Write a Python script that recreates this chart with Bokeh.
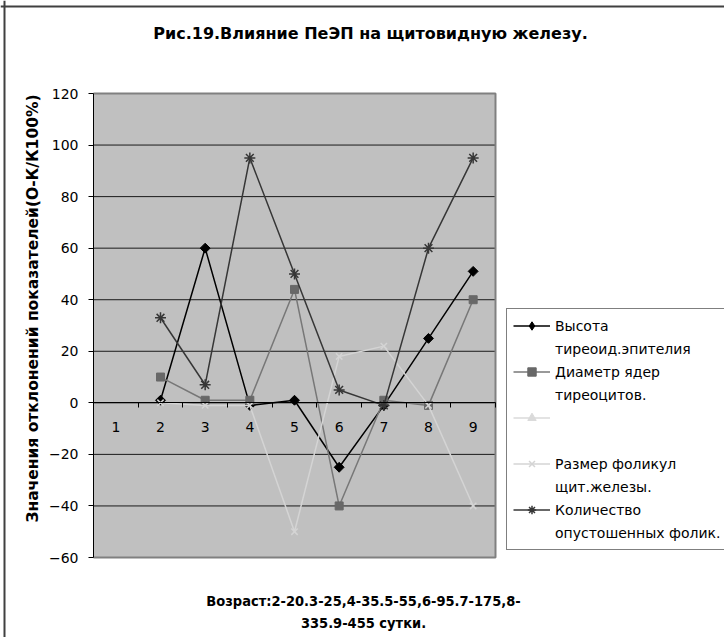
import math
from bokeh.plotting import figure
from bokeh.models import (Range1d, FixedTicker, LinearAxis, Label, Legend,
                          LegendItem, Span)
from bokeh.core.properties import value
from bokeh.embed import file_html
from bokeh.resources import INLINE

NaN = float("nan")

# Age groups 1..9 on the x axis; series have values from group 2 on
categories = ["1", "2", "3", "4", "5", "6", "7", "8", "9"]
age_groups = [2, 3, 4, 5, 6, 7, 8, 9]

epithelium_height = [1, 60, -1, 1, -25, -1, 25, 51]
nucleus_diameter = [10, 1, 1, 44, -40, 1, -1, 40]
unnamed_series = [NaN, NaN, NaN, NaN, NaN, NaN, NaN, NaN]
follicle_size = [0, -1, -1, -50, 18, 22, -1, -40]
empty_follicles = [33, 7, 95, 50, 5, -1, 60, 95]

y_ticks = [-60, -40, -20, 0, 20, 40, 60, 80, 100, 120]
y_tick_labels = ["-60", "-40", "-20", "0", "20", "40", "60", "80", "100", "120"]

title_text = "Рис.19.Влияние ПеЭП на щитовидную железу."
y_title = "Значения отклонений показателей(О-К/К100%)"
x_title_lines = ["Возраст:2-20.3-25,4-35.5-55,6-95.7-175,8-", "335.9-455 сутки."]

FONT = "DejaVu Sans"

# page geometry (pixels): the canvas and the grey plotting area inside it
W, H = 724, 637
AREA_L, AREA_R, AREA_T, AREA_B = 93, 495, 93, 557

x_lo, x_hi = 0.5, len(categories) + 0.5
y_lo, y_hi = y_ticks[0], y_ticks[-1]
x_per_px = (x_hi - x_lo) / (AREA_R - AREA_L)
y_per_px = (y_hi - y_lo) / (AREA_B - AREA_T)

# the frame spans the whole canvas so that legend and captions are not clipped
p = figure(width=W, height=H,
           x_range=Range1d(x_lo - AREA_L * x_per_px, x_hi + (W - AREA_R) * x_per_px),
           y_range=Range1d(y_lo - (H - AREA_B) * y_per_px, y_hi + AREA_T * y_per_px),
           x_axis_type=None, y_axis_type=None,
           output_backend="svg", toolbar_location=None,
           min_border=0)
p.outline_line_color = None
p.background_fill_color = "white"
p.border_fill_color = "white"
p.grid.visible = False

# grey plotting area
p.quad(left=x_lo, right=x_hi, bottom=y_lo, top=y_hi,
       fill_color="#c0c0c0", line_color=None)

# horizontal gridlines
inner = y_ticks[1:-1]
p.segment(x0=[x_lo] * len(inner), x1=[x_hi] * len(inner), y0=inner, y1=inner,
          line_color="#1a1a1a", line_width=1)

# grey border of the plotting area (top, right, bottom)
p.line([x_lo, x_hi, x_hi, x_lo], [y_hi, y_hi, y_lo, y_lo],
       line_color="#808080", line_width=2)

# series
r1_line = p.line(age_groups, epithelium_height, line_color="black", line_width=1.5)
p.scatter(age_groups, epithelium_height, marker="square", angle=math.pi / 4,
          size=7, fill_color="black", line_color="black")
# legend key for the diamond markers (no visible point)
r1_key = p.scatter(age_groups[:1], [NaN], marker="diamond", size=11,
                   fill_color="black", line_color="black")

r2_line = p.line(age_groups, nucleus_diameter, line_color="#777777", line_width=1.5)
r2_mark = p.scatter(age_groups, nucleus_diameter, marker="square", size=8,
                    fill_color="#686868", line_color="#686868")

r3_line = p.line(age_groups, unnamed_series, line_color="#dadada", line_width=1.5)
r3_mark = p.scatter(age_groups, unnamed_series, marker="triangle", size=9,
                    fill_color="#dadada", line_color="#dadada")

r4_line = p.line(age_groups, follicle_size, line_color="#d4d4d4", line_width=1.5)
r4_mark = p.scatter(age_groups, follicle_size, marker="x", size=9,
                    line_color="#d4d4d4", line_width=1.5)

r5_line = p.line(age_groups, empty_follicles, line_color="#363636", line_width=1.5)
r5_mark = p.scatter(age_groups, empty_follicles, marker="asterisk", size=11,
                    line_color="#363636", line_width=1.5)

# y axis on the left edge of the plotting area
y_axis = LinearAxis(ticker=FixedTicker(ticks=y_ticks), fixed_location=x_lo,
                    bounds=(y_lo, y_hi),
                    major_label_overrides={str(t): s for t, s in zip(y_ticks, y_tick_labels)},
                    major_tick_in=0, major_tick_out=5, minor_tick_line_color=None,
                    axis_line_color="black", major_tick_line_color="black",
                    major_label_standoff=10, major_label_text_font=FONT,
                    major_label_text_font_size="14px", major_label_text_color="black")
p.add_layout(y_axis, "left")

# x axis crossing at zero: tick marks between groups, labels at group centres
boundaries = [k + 0.5 for k in range(len(categories) + 1)]
tick_axis = LinearAxis(ticker=FixedTicker(ticks=boundaries), fixed_location=0,
                       bounds=(x_lo, x_hi),
                       major_tick_in=0, major_tick_out=5,
                       minor_tick_line_color=None,
                       axis_line_color="black", major_tick_line_color="black",
                       major_label_text_alpha=0, major_label_text_font_size="1px")
label_axis = LinearAxis(ticker=FixedTicker(ticks=list(range(1, len(categories) + 1))),
                        fixed_location=0,
                        major_label_overrides={str(i + 1): c for i, c in enumerate(categories)},
                        major_tick_in=0, major_tick_out=0,
                        major_tick_line_color=None, minor_tick_line_color=None,
                        axis_line_color=None, major_label_standoff=19,
                        major_label_text_font=FONT, major_label_text_font_size="14px",
                        major_label_text_color="black")
p.add_layout(tick_axis, "below")
p.add_layout(label_axis, "below")

# invisible sample for the second line of each legend entry
blank = p.line([], [], line_alpha=0)

legend = Legend(items=[
    LegendItem(label=value("Высота"), renderers=[r1_line, r1_key]),
    LegendItem(label=value("тиреоид.эпителия"), renderers=[blank]),
    LegendItem(label=value("Диаметр ядер"), renderers=[r2_line, r2_mark]),
    LegendItem(label=value("тиреоцитов."), renderers=[blank]),
    LegendItem(label=value(" "), renderers=[r3_line, r3_mark]),
    LegendItem(label=value("  "), renderers=[blank]),
    LegendItem(label=value("Размер фоликул"), renderers=[r4_line, r4_mark]),
    LegendItem(label=value("щит.железы."), renderers=[blank]),
    LegendItem(label=value("Количество"), renderers=[r5_line, r5_mark]),
    LegendItem(label=value("опустошенных фолик."), renderers=[blank]),
], location=(506, H - 550))
legend.label_text_font = FONT
legend.label_text_font_size = "14px"
legend.label_text_color = "black"
legend.label_height = 21
legend.glyph_height = 21
legend.glyph_width = 37
legend.label_standoff = 5
legend.spacing = 2
legend.padding = 6
legend.margin = 0
legend.border_line_color = "black"
legend.border_line_width = 1
legend.background_fill_color = "white"
p.add_layout(legend)

# captions (screen offsets from the lower-left corner of the canvas)
p.add_layout(Label(x=370, y=H - 33, x_units="screen", y_units="screen", text=title_text,
                   text_align="center", text_baseline="middle", text_font=FONT,
                   text_font_style="bold", text_font_size="16px", text_color="black"))
p.add_layout(Label(x=32, y=H - 308, x_units="screen", y_units="screen", text=y_title,
                   angle=math.pi / 2, text_align="center", text_baseline="middle",
                   text_font=FONT, text_font_style="bold", text_font_size="15.5px",
                   text_color="black"))
for line_text, cy in zip(x_title_lines, [600, 622]):
    p.add_layout(Label(x=363, y=H - cy, x_units="screen", y_units="screen", text=line_text,
                       text_align="center", text_baseline="middle",
                       text_font="DejaVu Sans Condensed", text_font_style="bold",
                       text_font_size="14.5px", text_color="black"))

# outer chart border (left and top edges)
p.add_layout(Span(location=4, dimension="height", location_units="screen",
                  line_color="#404040", line_width=2))
p.add_layout(Span(location=H - 6, dimension="width", location_units="screen",
                  line_color="#404040", line_width=2))

open("out.html", "w").write(file_html(p, INLINE))
